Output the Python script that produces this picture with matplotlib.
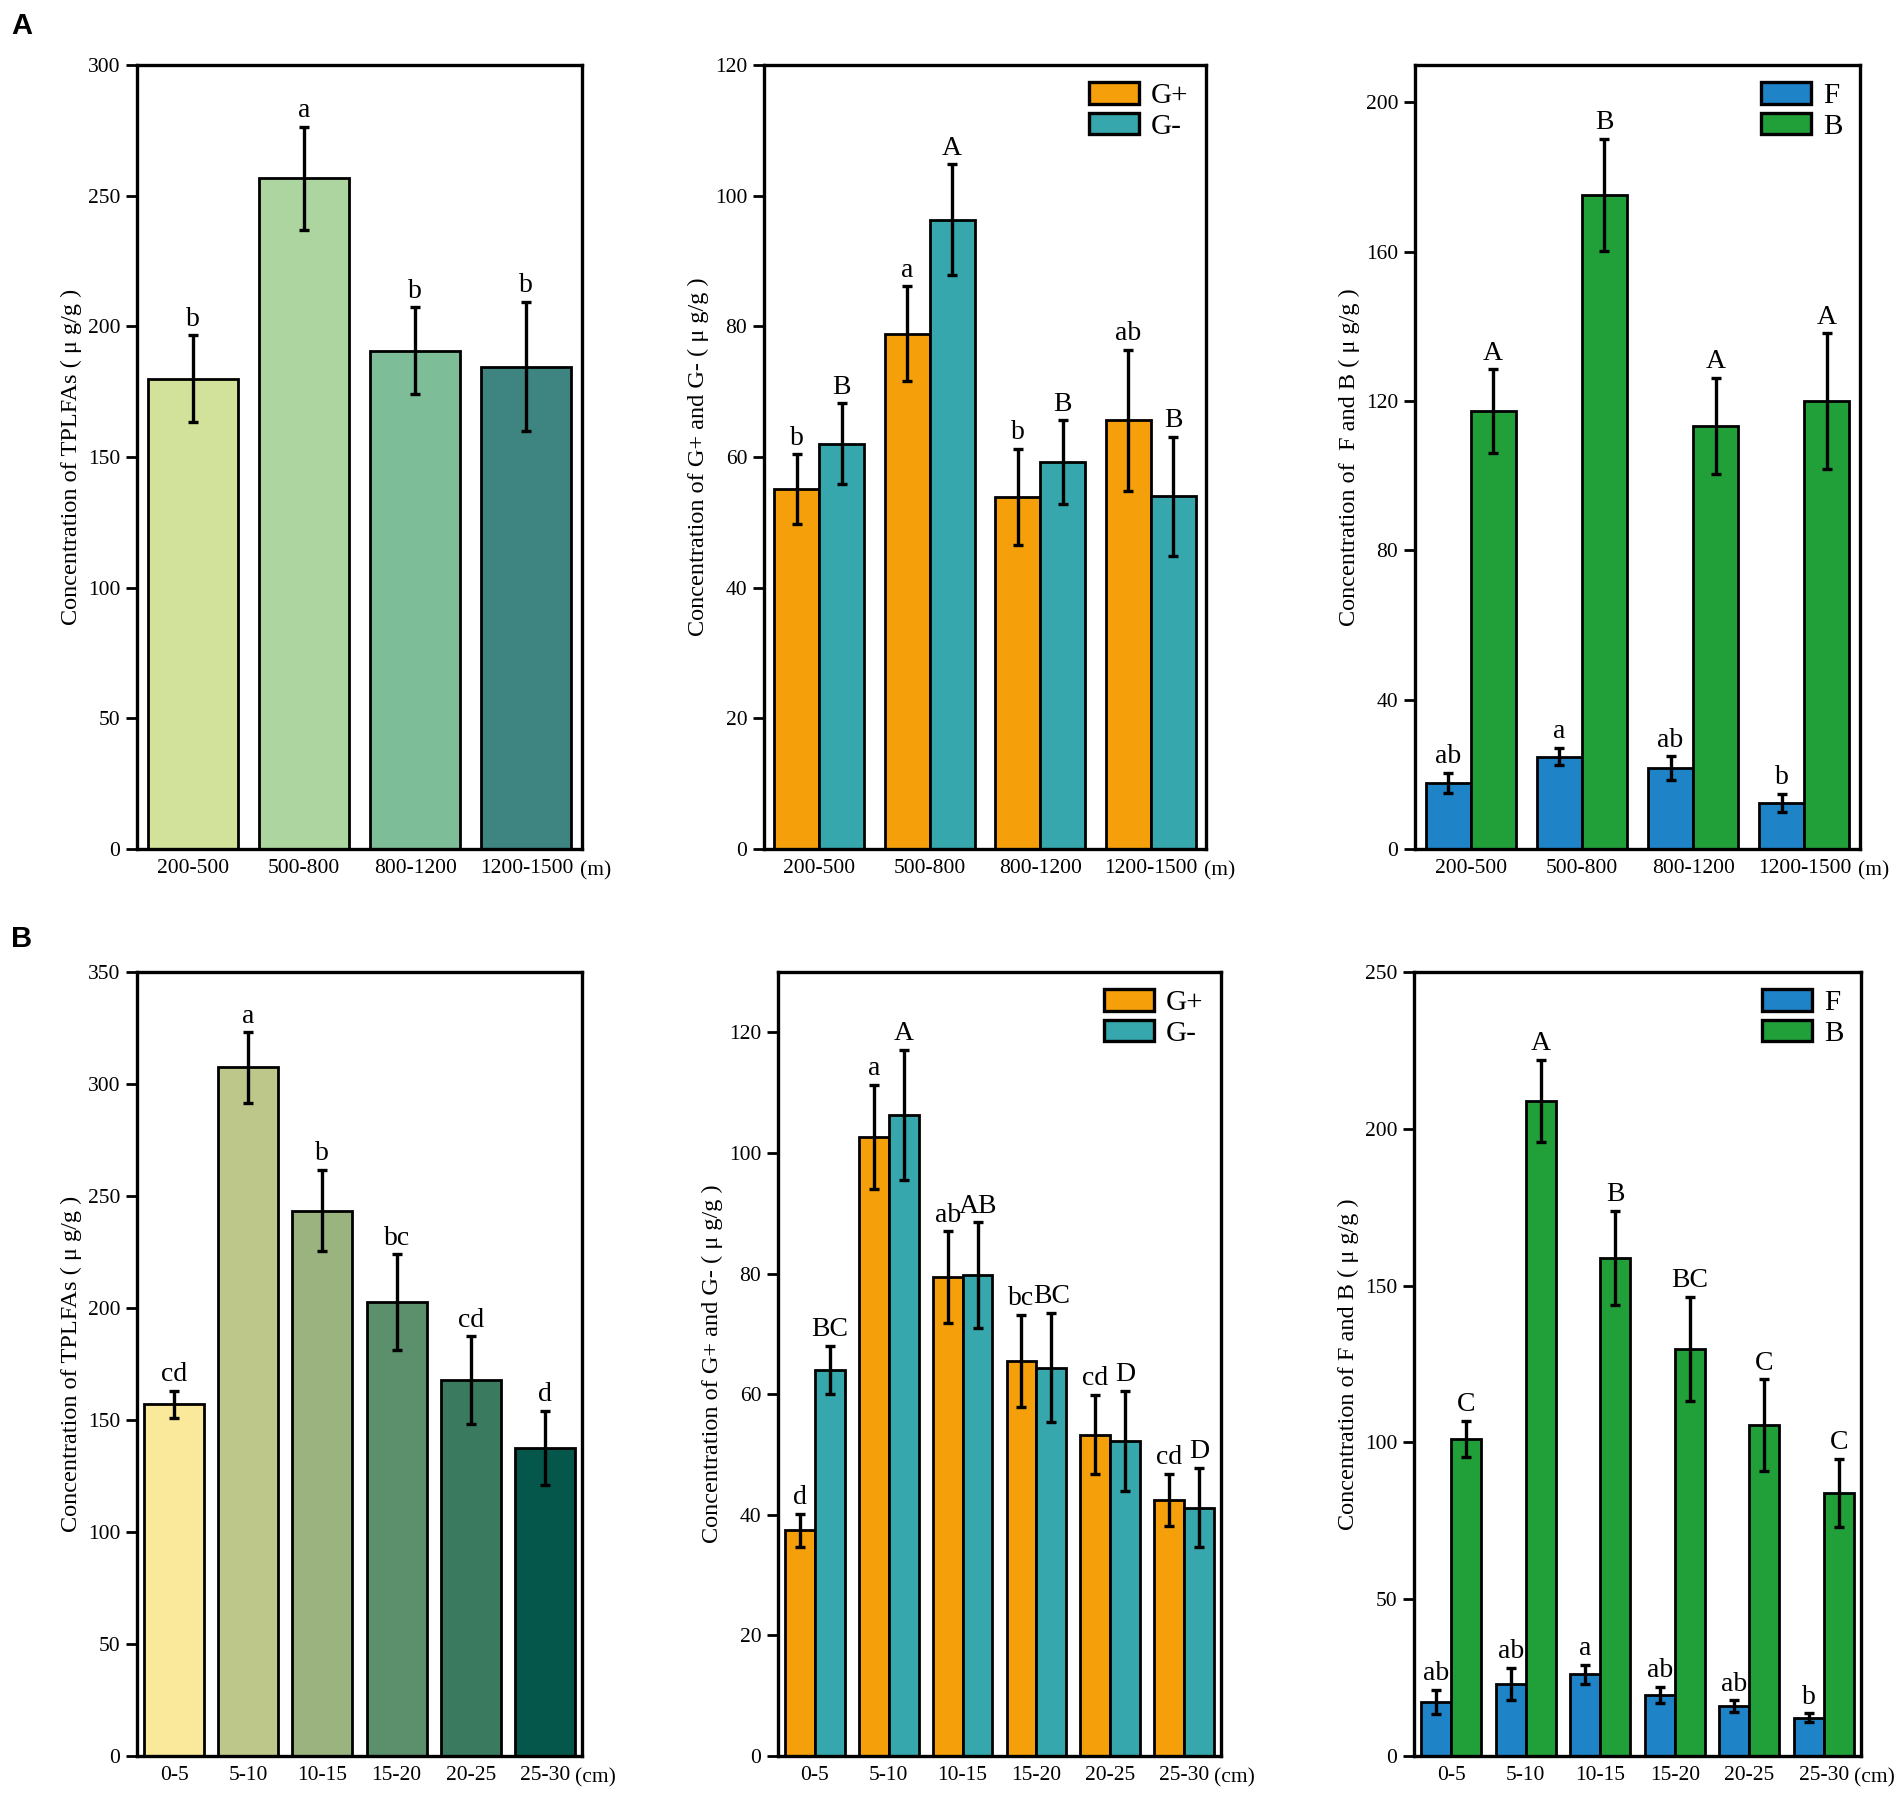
import matplotlib
matplotlib.use('Agg')
import matplotlib.pyplot as plt
from matplotlib.patches import Patch
import numpy as np

plt.rcParams['font.family'] = ['Liberation Serif', 'DejaVu Serif']

# ---- data, row A (altitude) ----
alt_labels = ['200-500', '500-800', '800-1200', '1200-1500']
alt_tplfa = [180.0, 256.6, 190.7, 184.6]
alt_tplfa_err = [16.5, 19.8, 16.6, 24.8]
alt_tplfa_sig = ['b', 'a', 'b', 'b']

alt_gpos = [55.1, 78.9, 53.9, 65.6]
alt_gpos_err = [5.3, 7.2, 7.4, 10.8]
alt_gpos_sig = ['b', 'a', 'b', 'ab']
alt_gneg = [62.0, 96.3, 59.2, 54.0]
alt_gneg_err = [6.2, 8.5, 6.4, 9.1]
alt_gneg_sig = ['B', 'A', 'B', 'B']

alt_f = [17.7, 24.7, 21.6, 12.3]
alt_f_err = [2.7, 2.3, 3.2, 2.5]
alt_f_sig = ['ab', 'a', 'ab', 'b']
alt_b = [117.3, 175.3, 113.3, 119.9]
alt_b_err = [11.2, 15.0, 12.9, 18.2]
alt_b_sig = ['A', 'B', 'A', 'A']

# ---- data, row B (soil depth) ----
dep_labels = ['0-5', '5-10', '10-15', '15-20', '20-25', '25-30']
dep_tplfa = [157.1, 307.4, 243.5, 202.6, 167.9, 137.7]
dep_tplfa_err = [6.0, 15.7, 18.1, 21.3, 19.5, 16.5]
dep_tplfa_sig = ['cd', 'a', 'b', 'bc', 'cd', 'd']

dep_gpos = [37.4, 102.7, 79.4, 65.5, 53.3, 42.5]
dep_gpos_err = [2.7, 8.6, 7.6, 7.7, 6.6, 4.3]
dep_gpos_sig = ['d', 'a', 'ab', 'bc', 'cd', 'cd']
dep_gneg = [64.0, 106.3, 79.7, 64.4, 52.2, 41.2]
dep_gneg_err = [4.0, 10.8, 8.8, 9.1, 8.3, 6.6]
dep_gneg_sig = ['BC', 'A', 'AB', 'BC', 'D', 'D']

dep_f = [17.2, 23.0, 26.1, 19.5, 15.9, 12.2]
dep_f_err = [3.9, 5.0, 3.0, 2.6, 1.8, 1.4]
dep_f_sig = ['ab', 'ab', 'a', 'ab', 'ab', 'b']
dep_b = [101.1, 208.9, 158.9, 129.9, 105.5, 83.9]
dep_b_err = [5.8, 13.0, 15.0, 16.6, 14.6, 10.9]
dep_b_sig = ['C', 'A', 'B', 'BC', 'C', 'C']

alt_colors = ['#d3e29a', '#acd5a0', '#7dbd97', '#3e8480']
dep_colors = ['#fae99a', '#bdc78a', '#9bb47f', '#5c8f6c', '#3a7b60', '#04574a']
c_gpos, c_gneg = '#f5a00a', '#36a7ad'
c_f, c_b = '#1f83c8', '#21a03a'

LW = 2.0
TICK_FS = 15.5
SIG_FS = 20
LABEL_FS = 17.5


def style_axes(ax, labels, unit, unit_x, ylim, yticks, ylabel):
    n = len(labels)
    ax.set_xlim(-0.5, n - 0.5)
    ax.set_ylim(*ylim)
    ax.set_yticks(yticks)
    ax.set_xticks(np.arange(n))
    ax.set_xticklabels(labels, fontsize=TICK_FS)
    ax.tick_params(axis='x', length=0, pad=7)
    ax.tick_params(axis='y', length=8, width=LW, labelsize=TICK_FS, pad=4)
    for s in ax.spines.values():
        s.set_linewidth(2.4)
    ax.set_ylabel(ylabel, fontsize=LABEL_FS, labelpad=4)
    # unit written just after the last category label
    ax.text(unit_x, -0.016, unit, transform=ax.transAxes, ha='left', va='top',
            fontsize=TICK_FS)


def put_sig(ax, x, tops, sigs):
    for xi, t, s in zip(x, tops, sigs):
        ax.annotate(s, (xi, t), xytext=(0, 7), textcoords='offset points',
                    ha='center', va='baseline', fontsize=SIG_FS)


def single_bars(ax, vals, errs, sigs, colors):
    x = np.arange(len(vals))
    ax.bar(x, vals, width=0.81, color=colors, edgecolor='black', linewidth=LW,
           zorder=2)
    ax.errorbar(x, vals, yerr=errs, fmt='none', ecolor='black', elinewidth=2.4,
                capsize=3.5, capthick=2.4, zorder=3)
    put_sig(ax, x, np.array(vals) + np.array(errs), sigs)


def pair_bars(ax, v1, e1, s1, v2, e2, s2, c1, c2, names):
    x = np.arange(len(v1))
    w = 0.405
    for off, v, e, s, c in [(-w / 2, v1, e1, s1, c1), (w / 2, v2, e2, s2, c2)]:
        ax.bar(x + off, v, width=w, color=c, edgecolor='black', linewidth=LW,
               zorder=2)
        ax.errorbar(x + off, v, yerr=e, fmt='none', ecolor='black',
                    elinewidth=2.4, capsize=3.5, capthick=2.4, zorder=3)
        put_sig(ax, x + off, np.array(v) + np.array(e), s)
    handles = [Patch(facecolor=c1, edgecolor='black', linewidth=2.4, label=names[0]),
               Patch(facecolor=c2, edgecolor='black', linewidth=2.4, label=names[1])]
    ax.legend(handles=handles, loc='upper right', frameon=False, fontsize=21,
              handlelength=1.72, handleheight=0.76, labelspacing=0.12,
              handletextpad=0.4, borderaxespad=0.2)


fig = plt.figure(figsize=(19.04, 17.96), dpi=100)

W, H = 1904.0, 1796.0


def add_ax(x0, x1, y0, y1):
    return fig.add_axes([x0 / W, 1 - y1 / H, (x1 - x0) / W, (y1 - y0) / H])


a1 = add_ax(137, 582, 65, 849)
a2 = add_ax(764, 1206, 65, 849)
a3 = add_ax(1415, 1860, 65, 849)
b1 = add_ax(137, 582, 972, 1756)
b2 = add_ax(778, 1221, 972, 1756)
b3 = add_ax(1414, 1861, 972, 1756)

single_bars(a1, alt_tplfa, alt_tplfa_err, alt_tplfa_sig, alt_colors)
style_axes(a1, alt_labels, '(m)', 0.995, (0, 300), range(0, 301, 50),
           'Concentration of TPLFAs ( \u03bc g/g )')

pair_bars(a2, alt_gpos, alt_gpos_err, alt_gpos_sig,
          alt_gneg, alt_gneg_err, alt_gneg_sig, c_gpos, c_gneg, ['G+', 'G-'])
style_axes(a2, alt_labels, '(m)', 0.995, (0, 120), range(0, 121, 20),
           'Concentration of G+ and G- ( \u03bc g/g )')

pair_bars(a3, alt_f, alt_f_err, alt_f_sig,
          alt_b, alt_b_err, alt_b_sig, c_f, c_b, ['F', 'B'])
style_axes(a3, alt_labels, '(m)', 0.995, (0, 210), range(0, 201, 40),
           'Concentration of  F and B ( \u03bc g/g )')

single_bars(b1, dep_tplfa, dep_tplfa_err, dep_tplfa_sig, dep_colors)
style_axes(b1, dep_labels, '(cm)', 0.985, (0, 350), range(0, 351, 50),
           'Concentration of TPLFAs ( \u03bc g/g )')

pair_bars(b2, dep_gpos, dep_gpos_err, dep_gpos_sig,
          dep_gneg, dep_gneg_err, dep_gneg_sig, c_gpos, c_gneg, ['G+', 'G-'])
style_axes(b2, dep_labels, '(cm)', 0.985, (0, 130), range(0, 121, 20),
           'Concentration of G+ and G- ( \u03bc g/g )')

pair_bars(b3, dep_f, dep_f_err, dep_f_sig,
          dep_b, dep_b_err, dep_b_sig, c_f, c_b, ['F', 'B'])
style_axes(b3, dep_labels, '(cm)', 0.985, (0, 250), range(0, 251, 50),
           'Concentration of F and B ( \u03bc g/g )')

fig.text(11 / W, 1 - 12 / H, 'A', fontsize=21, fontweight='bold',
         family='Liberation Sans', va='top', ha='left')
fig.text(11 / W, 1 - 925 / H, 'B', fontsize=21, fontweight='bold',
         family='Liberation Sans', va='top', ha='left')

fig.savefig('out.png', dpi=100)
